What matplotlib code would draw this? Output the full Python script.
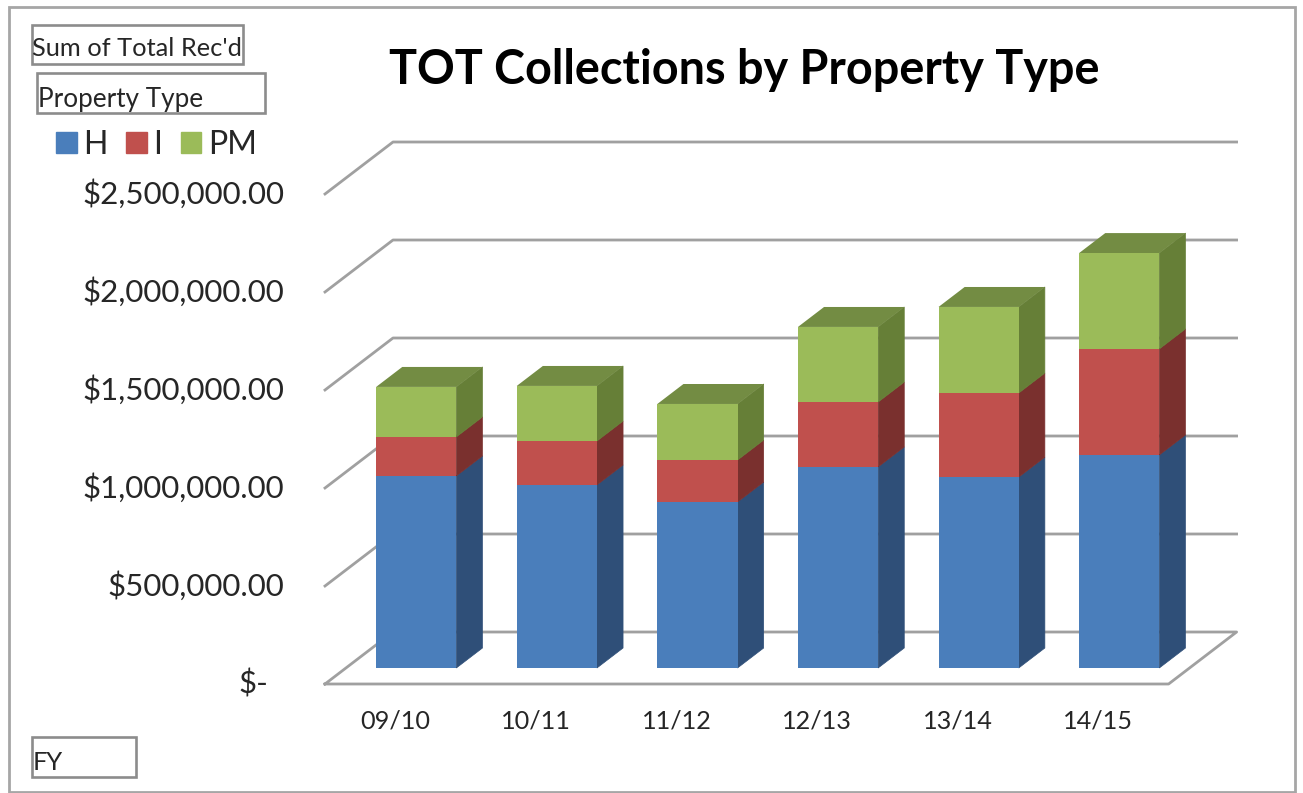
"""
TOT collections by property type, stacked bars drawn with a fake 3D depth.
"""

import matplotlib
matplotlib.use("Agg")
import matplotlib.pyplot as plt
from matplotlib.patches import Polygon, Rectangle

W, H = 1303, 793

YEARS = ["09/10", "10/11", "11/12", "12/13", "13/14", "14/15"]
H_VALUES = [980000, 934000, 847000, 1026000, 974000, 1087000]
I_VALUES = [199000, 224000, 214000, 331000, 429000, 541000]
PM_VALUES = [255000, 281000, 286000, 383000, 439000, 489000]
TICK_VALUES = [0, 500000, 1000000, 1500000, 2000000, 2500000]
TICK_LABELS = ["$-", "$500,000.00", "$1,000,000.00", "$1,500,000.00",
               "$2,000,000.00", "$2,500,000.00"]

FRONT = {"H": "#4a7ebb", "I": "#c0504d", "PM": "#9bbb59"}
SIDE = {"H": "#2f4f78", "I": "#7a302e", "PM": "#667f37"}
TOP = {"H": "#3a639a", "I": "#96403d", "PM": "#738c43"}

GRID = "#a0a0a0"
TEXT = "#262626"
FONT = "Lato"

# px per category and per dollar, front plane origin in px
X_STEP = 140.6
Y_STEP = 196 / 1e6
X0, Y0 = 395.3, 684

# depth shift of the back wall, in data units
DX = 68 / X_STEP
DY = 52 / Y_STEP
BAR_NEAR, BAR_FAR = 0.308, 0.692
BAR_W = 80.2 / X_STEP


def px_box(x0, y0, x1, y1):
    return Rectangle((x0 / W, 1 - y1 / H), (x1 - x0) / W, (y1 - y0) / H,
                     transform=fig.transFigure, fill=False, edgecolor="#8c8c8c", linewidth=1.9)


def px_text(x, y, s, **kw):
    fig.text(x / W, 1 - y / H, s, family=FONT, color=TEXT, va="center", **kw)


def draw_segment(ax, i, bottom, height, key):
    left = i + BAR_NEAR * DX - BAR_W / 2
    right = left + BAR_W
    y0 = bottom + BAR_NEAR * DY
    y1 = y0 + height
    sx = (BAR_FAR - BAR_NEAR) * DX
    sy = (BAR_FAR - BAR_NEAR) * DY

    ax.add_patch(Polygon([(right, y0), (right + sx, y0 + sy), (right + sx, y1 + sy), (right, y1)],
                         facecolor=SIDE[key], edgecolor=SIDE[key], linewidth=0.5, zorder=3 + i))
    ax.bar(left, height, BAR_W, bottom=y0, align="edge", color=FRONT[key], zorder=3.5 + i)
    return left, right, y1, sx, sy


def main():
    global fig
    fig = plt.figure(figsize=(W / 100, H / 100), dpi=100)
    ax = fig.add_axes([0, 0, 1, 1])
    ax.set_xlim(-X0 / X_STEP, (W - X0) / X_STEP)
    ax.set_ylim((Y0 - H) / Y_STEP, Y0 / Y_STEP)
    ax.axis("off")

    # side wall, back wall and floor lines
    x_left = -0.5
    x_right = len(YEARS) - 0.5
    for v in TICK_VALUES:
        if v == 0:
            ax.plot([x_left, x_left + DX, x_right + DX, x_right, x_left],
                    [0, DY, DY, 0, 0], color=GRID, lw=2, zorder=1)
        else:
            ax.plot([x_left, x_left + DX, x_right + DX],
                    [v, v + DY, v + DY], color=GRID, lw=2, zorder=1)

    for i in range(len(YEARS)):
        bottom = 0
        for key, vals in (("H", H_VALUES), ("I", I_VALUES), ("PM", PM_VALUES)):
            left, right, y1, sx, sy = draw_segment(ax, i, bottom, vals[i], key)
            bottom += vals[i]
        ax.add_patch(Polygon([(left, y1), (right, y1), (right + sx, y1 + sy), (left + sx, y1 + sy)],
                             facecolor=TOP["PM"], edgecolor="none", zorder=3 + i))

    for v, lab in zip(TICK_VALUES, TICK_LABELS):
        x_lab = x_left - 41 / X_STEP if v else x_left - 57 / X_STEP
        ax.text(x_lab, v, lab, ha="right", va="center", family=FONT, fontsize=22.5, color=TEXT)

    for i, year in enumerate(YEARS):
        ax.text(i, -37 / Y_STEP, year, ha="center", va="center", family=FONT, fontsize=18.2, color=TEXT)

    handles = [Rectangle((0, 0), 1, 1, color=FRONT[k]) for k in ("H", "I", "PM")]
    fig.legend(handles, ["H", "I", "PM"], ncol=3, frameon=False, loc="center left",
               bbox_to_anchor=(56 / W, 1 - 145 / H), prop={"family": FONT, "size": 23},
               handlelength=0.65, handleheight=0.65, handletextpad=0.2, columnspacing=0.58,
               labelcolor=TEXT, borderpad=0, borderaxespad=0)

    fig.add_artist(Rectangle((9 / W, 1 - 792 / H), 1286 / W, 785 / H, transform=fig.transFigure,
                             fill=False, edgecolor="#a6a6a6", linewidth=2))
    fig.add_artist(px_box(32, 25, 243, 64))
    fig.add_artist(px_box(37, 73, 265, 113))
    fig.add_artist(px_box(32, 737, 136, 777))
    px_text(32, 49, "Sum of Total Rec'd", fontsize=18.3, ha="left")
    px_text(38, 99, "Property Type", fontsize=18.8, ha="left")
    px_text(33, 762, "FY", fontsize=18.3, ha="left")

    fig.text(744 / W, 1 - 70 / H, "TOT Collections by Property Type", family=FONT,
             fontsize=33.7, fontweight="bold", color="#000000", ha="center", va="center")

    fig.savefig("out.png", dpi=100, facecolor="white")
    plt.close(fig)


if __name__ == "__main__":
    main()
